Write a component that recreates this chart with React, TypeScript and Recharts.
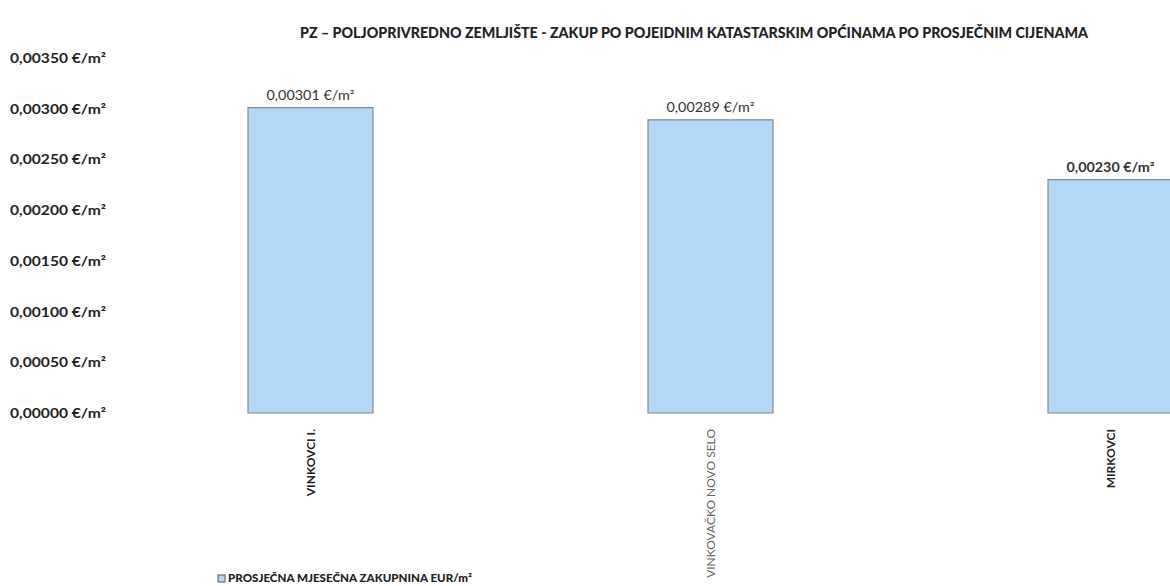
import React from "react";
import { BarChart, Bar, XAxis, YAxis, LabelList } from "recharts";

const categories = ["VINKOVCI I.", "VINKOVAČKO NOVO SELO", "MIRKOVCI"];
const values = [0.00301, 0.00289, 0.0023];
const yTicks = [0, 0.0005, 0.001, 0.0015, 0.002, 0.0025, 0.003, 0.0035];
const title =
  "PZ – POLJOPRIVREDNO ZEMLJIŠTE - ZAKUP PO POJEIDNIM KATASTARSKIM OPĆINAMA PO PROSJEČNIM CIJENAMA";
const seriesName = "PROSJEČNA MJESEČNA ZAKUPNINA EUR/m²";

const catWeights = ["bold", "normal", "bold"];
const catColors = ["#222", "#666", "#222"];

const data = categories.map((c, i) => ({ name: c, value: values[i] }));

const fmt = (v: number) => v.toFixed(5).replace(".", ",") + " €/m²";

const FONT = "Lato, 'Open Sans', sans-serif";

const YTick = (props: any) => {
  const { y, payload } = props;
  return (
    <text
      x={10}
      y={y}
      dy={5}
      textAnchor="start"
      textLength={96}
      lengthAdjust="spacingAndGlyphs"
      fontFamily={FONT}
      fontWeight="bold"
      fontSize={13}
      fill="#222"
    >
      {fmt(payload.value)}
    </text>
  );
};

const XTick = (props: any) => {
  const { x, y, payload, index } = props;
  return (
    <text
      transform={`translate(${x + 5},${y + 8}) rotate(-90)`}
      textAnchor="end"
      fontFamily={FONT}
      fontWeight={catWeights[index]}
      fontSize={12}
      fill={catColors[index]}
    >
      {payload.value}
    </text>
  );
};

const ValueLabel = (props: any) => {
  const { x, y, width, value, index } = props;
  return (
    <text
      x={x + width / 2}
      y={y - 8}
      textAnchor="middle"
      textLength={88}
      lengthAdjust="spacingAndGlyphs"
      fontFamily={FONT}
      fontWeight={index === 2 ? "bold" : "normal"}
      fontSize={12.5}
      fill="#333"
    >
      {fmt(value)}
    </text>
  );
};

export default function App() {
  return (
    <div
      style={{
        position: "absolute",
        left: 0,
        top: 0,
        width: 1170,
        height: 586,
        overflow: "hidden",
        background: "#fff",
      }}
    >
      <svg
        width={1170}
        height={586}
        style={{ position: "absolute", left: 0, top: 0 }}
      >
        <text
          x={300}
          y={38}
          textLength={788}
          lengthAdjust="spacingAndGlyphs"
          fontFamily={FONT}
          fontWeight={900}
          fontSize={15}
          fill="#222"
        >
          {title}
        </text>
        <rect x={218} y={575} width={7} height={7} fill="#b5d8f5" stroke="#555" />
        <text
          x={228}
          y={582}
          textLength={244}
          lengthAdjust="spacingAndGlyphs"
          fontFamily={FONT}
          fontWeight={900}
          fontSize={10.5}
          fill="#222"
        >
          {seriesName}
        </text>
      </svg>
      <div style={{ position: "absolute", left: 0, top: 0 }}>
        <BarChart
          width={1330}
          height={586}
          data={data}
          margin={{ top: 58, right: 20, left: 0, bottom: 0 }}
        >
          <XAxis
            dataKey="name"
            axisLine={false}
            tickLine={false}
            height={173}
            tick={<XTick />}
            interval={0}
          />
          <YAxis
            width={110}
            domain={[0, 0.0035]}
            ticks={yTicks}
            axisLine={false}
            tickLine={false}
            tick={<YTick />}
            interval={0}
          />
          <Bar
            dataKey="value"
            fill="#b3d7f6"
            stroke="#7f8a94"
            strokeWidth={1.2}
            barSize={125}
            isAnimationActive={false}
          >
            <LabelList dataKey="value" content={<ValueLabel />} />
          </Bar>
        </BarChart>
      </div>
    </div>
  );
}
